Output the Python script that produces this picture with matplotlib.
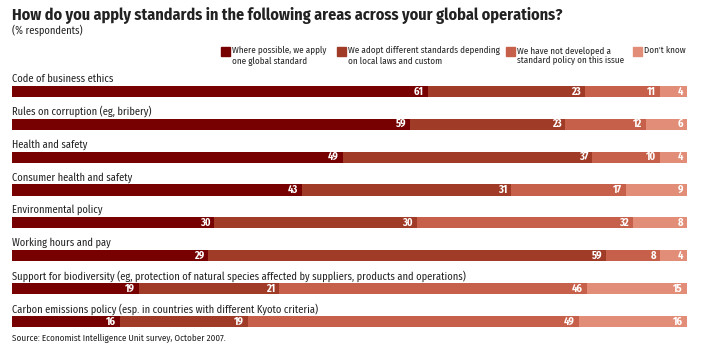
import matplotlib.pyplot as plt
from matplotlib.patches import Rectangle

# 資料
categories = ['Code of business ethics',
              'Rules on corruption (eg, bribery)',
              'Health and safety',
              'Consumer health and safety',
              'Environmental policy',
              'Working hours and pay',
              'Support for biodiversity (eg, protection of natural species affected by suppliers, products and operations)',
              'Carbon emissions policy (esp. in countries with different Kyoto criteria)']
one_global = [61, 59, 49, 43, 30, 29, 19, 16]
local_laws = [23, 23, 37, 31, 30, 59, 21, 19]
no_policy = [11, 12, 10, 17, 32, 8, 46, 49]
dont_know = [4, 6, 4, 9, 8, 4, 15, 16]
series_names = ['Where possible, we apply\none global standard',
                'We adopt different standards depending\non local laws and custom',
                'We have not developed a\nstandard policy on this issue',
                "Don't know"]
colors = ['#770000', '#9f3b27', '#c7604a', '#e28d77']

FONT = ['Fira Sans Condensed', 'PT Sans Narrow', 'DejaVu Sans']
plt.rcParams['font.family'] = FONT

W, H = 706, 348
fig = plt.figure(figsize=(W / 100, H / 100), dpi=100)

def px(x, y):
    # 像素座標 -> figure 座標
    return x / W, 1 - y / H

# 長條圖區域
top, bottom = 61.9, 337.9
ax = fig.add_axes([12 / W, (H - bottom) / H, 675 / W, (bottom - top) / H])

series = [one_global, local_laws, no_policy, dont_know]
for i, cat in enumerate(categories):
    total = sum(s[i] for s in series)
    left = 0
    for s, c in zip(series, colors):
        w = s[i] / total * 100
        ax.barh(i, w, left=left, height=0.34, color=c, edgecolor='none')
        ax.text(left + w - 0.6, i, str(s[i]), ha='right', va='center',
                color='white', fontsize=7.5, fontweight='bold')
        left += w
    ax.text(0, i - 0.39, cat, ha='left', va='center', fontsize=7.5, color='#222222')

ax.set_xlim(0, 100)
ax.set_ylim(7.5, -0.9)
ax.axis('off')

# 標題
fig.text(*px(12, 15), 'How do you apply standards in the following areas across your global operations?',
         fontsize=11.6, fontweight='bold', va='center', color='#222222')
fig.text(*px(12, 30), '(% respondents)', fontsize=7.5, va='center', color='#222222')

# 圖例
legend_x = [221, 337, 506, 633]
for x, name, c in zip(legend_x, series_names, colors):
    fig.patches.append(Rectangle(px(x, 56), 9 / W, 9 / H, color=c, transform=fig.transFigure))
    fig.text(*px(x + 11, 46), name, fontsize=6.5, va='top', ha='left',
             linespacing=1.2, color='#222222')

# 資料來源
fig.text(*px(12, 338), 'Source: Economist Intelligence Unit survey, October 2007.',
         fontsize=6.5, va='center', color='#222222')

fig.savefig('out.png', dpi=100)
